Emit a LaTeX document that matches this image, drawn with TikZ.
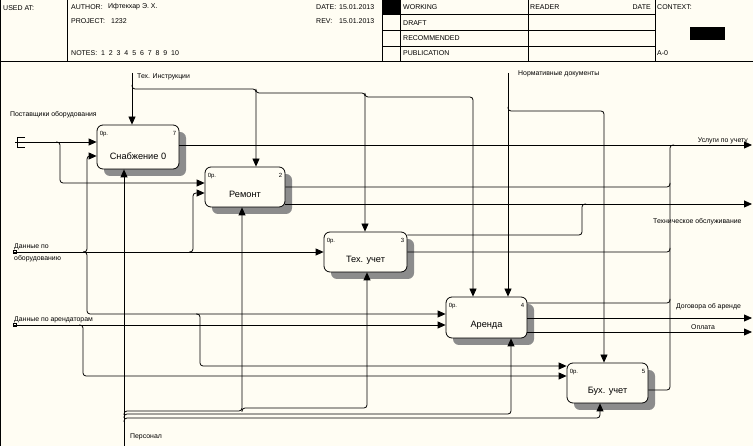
\documentclass[tikz,border=0pt]{standalone}
\usepackage{fontspec}
\setmainfont{Liberation Sans}
\usetikzlibrary{arrows.meta,patterns,shadows}
\definecolor{bgc}{RGB}{255,253,243}
\begin{document}
\begin{tikzpicture}[x=1pt,y=-1pt,
  ln/.style={line width=0.8pt,rounded corners=3pt},
  arr/.style={ln,-{Triangle[length=8pt,width=7pt]}},
  frm/.style={line width=0.8pt},
  hdr/.style={anchor=west,inner sep=0pt,font=\fontsize{7}{8}\selectfont},
  albl/.style={anchor=west,inner sep=0pt,font=\fontsize{6.9}{12}\selectfont,align=left},
  proc/.style={draw,line width=0.8pt,fill=bgc,rounded corners=6pt,inner sep=0pt,
     general shadow={shadow xshift=7pt,shadow yshift=-7pt,fill=black!45}},
  ptext/.style={inner sep=0pt,font=\fontsize{9.2}{10}\selectfont},
  psmall/.style={inner sep=0pt,font=\fontsize{6}{7}\selectfont},
]
\useasboundingbox (0,0) rectangle (753,446);
\fill[bgc] (0,0) rectangle (753,446);

% ---------- header frame ----------
\draw[frm] (0.5,0) -- (0.5,446);
\draw[frm] (0,61) -- (753,61);
\draw[frm] (67,0) -- (67,61) (382,0) -- (382,61) (400,0) -- (400,61)
           (528,0) -- (528,61) (655,0) -- (655,61);
\draw[frm] (382,14) -- (655,14) (382,30) -- (655,30) (382,46) -- (655,46);
\fill (382,0) rectangle (400,14);
\fill (690,27) rectangle (725,40);

\node[hdr] (hUsed) at (3,8) {USED AT:};
\node[hdr] (hAuth) at (71,7) {AUTHOR:};
\node[hdr] (hAuthN) at (108,7) {Ифтекхар Э. Х.};
\node[hdr] (hProj) at (71,21) {PROJECT:};
\node[hdr] (hProjN) at (111,21) {1232};
\node[hdr] (hNotes) at (71,53) {NOTES:\ \ 1\ \ 2\ \ 3\ \ 4\ \ 5\ \ 6\ \ 7\ \ 8\ \ 9\ \ 10};
\node[hdr] (hDate) at (316,7) {DATE:};
\node[hdr] (hDateN) at (339,7) {15.01.2013};
\node[hdr] (hRev) at (316,21) {REV:};
\node[hdr] (hRevN) at (339,21) {15.01.2013};
\node[hdr] (hWork) at (403,7) {WORKING};
\node[hdr] (hDraft) at (403,23) {DRAFT};
\node[hdr] (hRec) at (403,38) {RECOMMENDED};
\node[hdr] (hPub) at (403,53) {PUBLICATION};
\node[hdr] (hRead) at (530,7) {READER};
\node[hdr,anchor=east] (hRDate) at (651,7) {DATE};
\node[hdr] (hCtx) at (657,7) {CONTEXT:};
\node[hdr] (hA0) at (657,53) {A-0};

% ---------- activity boxes ----------
\node[proc,minimum width=82pt,minimum height=44pt] (b1) at (138,147) {};
\node[proc,minimum width=80pt,minimum height=40pt] (b2) at (245,187) {};
\node[proc,minimum width=83pt,minimum height=40pt] (b3) at (365.5,252) {};
\node[proc,minimum width=81pt,minimum height=41pt] (b4) at (486.5,317.5) {};
\node[proc,minimum width=81pt,minimum height=40pt] (b5) at (607.5,383) {};

\node[ptext] (t1) at ([shift={(0,9)}]b1.center) {Снабжение 0};
\node[ptext] (t2) at ([shift={(0,7)}]b2.center) {Ремонт};
\node[ptext] (t3) at ([shift={(0,8)}]b3.center) {Тех. учет};
\node[ptext] (t4) at ([shift={(0,7.5)}]b4.center) {Аренда};
\node[ptext] (t5) at ([shift={(0,8.5)}]b5.center) {Бух. учет};

\foreach \b/\n in {b1/7,b2/2,b3/3,b4/4,b5/5}{
  \node[psmall,anchor=west] (\b op) at ([shift={(3,9)}]\b.north west) {0р.};
  \node[psmall,anchor=east] (\b nr) at ([shift={(-3,9)}]\b.north east) {\n};
}

% ---------- inputs ----------
\coordinate (sP) at (15,142);
\draw[line width=0.8pt] (25,137) -- (17,137) -- (17,147) -- (25,147);
\draw[arr] (sP) -- (sP -| b1.west);
\draw[arr] (56,142) -- (60,142) -- (60,183) -- (b2.west |- 0,183);

\coordinate (sO) at (14,252);
\draw[line width=0.6pt] (13,250.5) rectangle (16,253.5);
\draw[arr] (sO) -- (sO -| b3.west);
\draw[arr] (83,252) -- (87,252) -- (87,156) -- (b1.west |- 0,156);
\draw[arr] (189,252) -- (193,252) -- (193,193) -- (b2.west |- 0,193);
\draw[arr] (83,252) -- (87,252) -- (87,314) -- (b4.west |- 0,314);
\draw[arr] (196,314) -- (200,314) -- (200,366) -- (b5.west |- 0,366);

\coordinate (sR) at (14,325);
\draw[line width=0.6pt] (13,323.5) rectangle (16,326.5);
\draw[arr] (sR) -- (sR -| b4.west);
\draw[arr] (79,325) -- (83,325) -- (83,376) -- (b5.west |- 0,376);

% ---------- controls ----------
\coordinate (cT) at (132,73);
\draw[arr] (cT) -- (cT |- b1.north);
\draw[arr] (132,85) -- (132,89) -- (256,89) -- (256,0 |- b2.north);
\draw[arr] (256,89) -- (256,93) -- (365,93) -- (365,0 |- b3.north);
\draw[arr] (365,93) -- (365,97) -- (473,97) -- (473,0 |- b4.north);

\coordinate (cN) at (508,73);
\draw[arr] (cN) -- (cN |- b4.north);
\draw[arr] (508,107) -- (508,111) -- (604,111) -- (604,0 |- b5.north);

% ---------- mechanisms ----------
\coordinate (mP) at (124,446);
\draw[arr] (mP) -- (mP |- b1.south);
\draw[arr] (124,422) -- (124,418) -- (600,418) -- (600,0 |- b5.south);
\draw[arr] (124,418) -- (124,414) -- (511,414) -- (511,0 |- b4.south);
\draw[arr] (124,415) -- (124,411) -- (242,411) -- (242,0 |- b2.south);
\draw[arr] (242,412) -- (242,408) -- (367,408) -- (367,0 |- b3.south);

% ---------- outputs ----------
\coordinate (oU) at (752,145);
\draw[arr] (b1.east |- oU) -- (oU);
\draw[ln] (b5.east |- 0,390) -- (670,390) -- (670,145) -- (674,145);
\draw[ln] (b2.east |- 0,187) -- (670,187) -- (670,183);
\draw[ln] (b3.east |- 0,252) -- (670,252) -- (670,248);
\draw[ln] (b4.east |- 0,303) -- (670,303) -- (670,299);

\coordinate (oT) at (752,204);
\draw[arr] (b2.east |- oT) -- (oT);
\draw[ln] (b3.east |- 0,235) -- (582,235) -- (582,204) -- (586,204);

\coordinate (oD) at (752,318);
\draw[arr] (b4.east |- oD) -- (oD);
\coordinate (oO) at (752,332);
\draw[arr] (b4.east |- oO) -- (oO);

% ---------- arrow labels ----------
\node[albl] (lT) at (137,77) {Тех. Инструкции};
\node[albl] (lN) at (518,74) {Нормативные документы};
\node[albl] (lP) at (10,115) {Поставщики оборудования};
\node[albl] (lO) at (14,253) {Данные по\\оборудованию};
\node[albl] (lR) at (14,320) {Данные по арендаторам};
\node[albl] (lM) at (130,437) {Персонал};
\node[albl,anchor=east] (lU) at (748,141) {Услуги по учету};
\node[albl] (lTO) at (653,222) {Техническое обслуживание};
\node[albl] (lD) at (676,307) {Договора об аренде};
\node[albl] (lOp) at (691,327) {Оплата};
\end{tikzpicture}
\end{document}
